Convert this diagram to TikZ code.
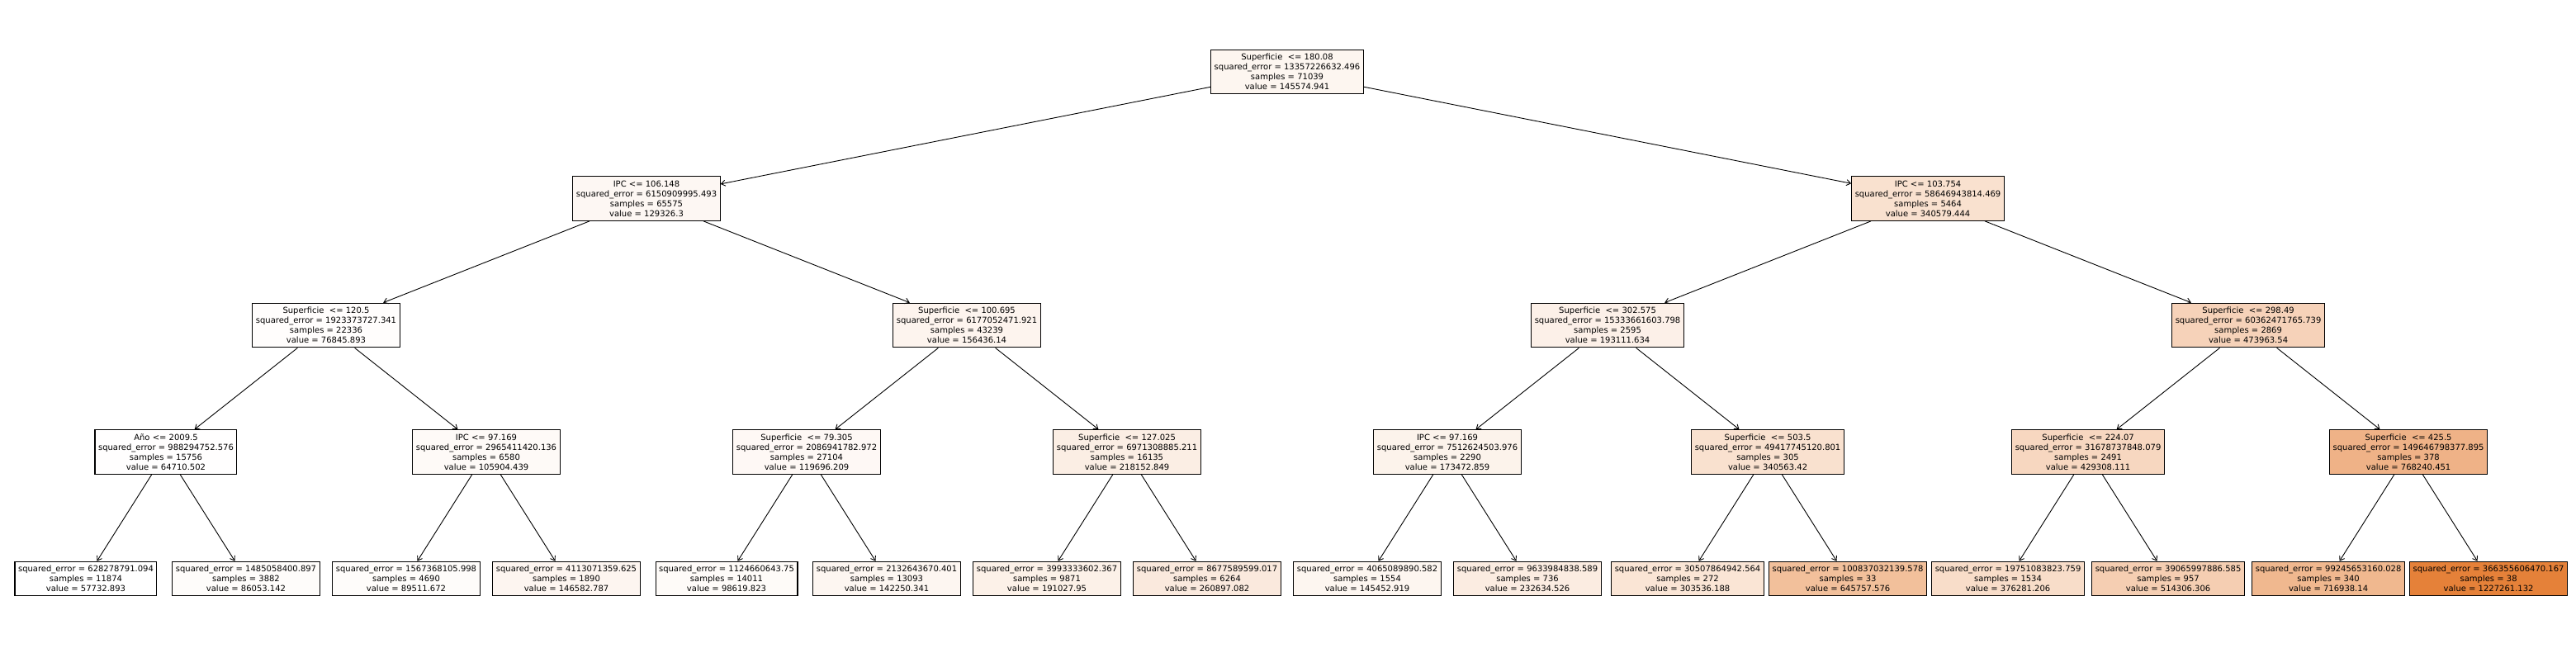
\documentclass[tikz,border=0pt]{standalone}
\usepackage{fontspec}
\setmainfont{DejaVu Sans}
\usetikzlibrary{arrows.meta}
\definecolor{treeorange}{RGB}{229,129,57}

\begin{document}
\begin{tikzpicture}[x=194pt, y=153.5pt, >={Straight Barb[length=5pt,width=7pt]},
  every node/.style={font=\fontsize{10}{12}\selectfont},
  treenode/.style={draw, line width=1.1pt, align=center, inner xsep=4pt, inner ysep=5pt},
  branch/.style={->, line width=0.9pt}]
  \useasboundingbox (-0.536,0.567) rectangle (15.546,-4.58);

  % root and first split
  \node[treenode, fill=treeorange!7.5] (t) at (7.5,0) {Superficie~ <= 180.08\\squared\_error = 13357226632.496\\samples = 71039\\value = 145574.941};
  \node[treenode, fill=treeorange!6.1] (l) at (3.5,-1) {IPC <= 106.148\\squared\_error = 6150909995.493\\samples = 65575\\value = 129326.3};
  \node[treenode, fill=treeorange!24.2] (r) at (11.5,-1) {IPC <= 103.754\\squared\_error = 58646943814.469\\samples = 5464\\value = 340579.444};

  % depth 2
  \node[treenode, fill=treeorange!1.6] (ll) at (1.5,-2) {Superficie~ <= 120.5\\squared\_error = 1923373727.341\\samples = 22336\\value = 76845.893};
  \node[treenode, fill=treeorange!8.4] (lr) at (5.5,-2) {Superficie~ <= 100.695\\squared\_error = 6177052471.921\\samples = 43239\\value = 156436.14};
  \node[treenode, fill=treeorange!11.6] (rl) at (9.5,-2) {Superficie~ <= 302.575\\squared\_error = 15333661603.798\\samples = 2595\\value = 193111.634};
  \node[treenode, fill=treeorange!35.6] (rr) at (13.5,-2) {Superficie~ <= 298.49\\squared\_error = 60362471765.739\\samples = 2869\\value = 473963.54};

  % depth 3
  \node[treenode, fill=treeorange!0.6] (lll) at (0.5,-3) {Año <= 2009.5\\squared\_error = 988294752.576\\samples = 15756\\value = 64710.502};
  \node[treenode, fill=treeorange!4.1] (llr) at (2.5,-3) {IPC <= 97.169\\squared\_error = 2965411420.136\\samples = 6580\\value = 105904.439};
  \node[treenode, fill=treeorange!5.3] (lrl) at (4.5,-3) {Superficie~ <= 79.305\\squared\_error = 2086941782.972\\samples = 27104\\value = 119696.209};
  \node[treenode, fill=treeorange!13.7] (lrr) at (6.5,-3) {Superficie~ <= 127.025\\squared\_error = 6971308885.211\\samples = 16135\\value = 218152.849};
  \node[treenode, fill=treeorange!9.9] (rll) at (8.5,-3) {IPC <= 97.169\\squared\_error = 7512624503.976\\samples = 2290\\value = 173472.859};
  \node[treenode, fill=treeorange!24.2] (rlr) at (10.5,-3) {Superficie~ <= 503.5\\squared\_error = 49417745120.801\\samples = 305\\value = 340563.42};
  \node[treenode, fill=treeorange!31.8] (rrl) at (12.5,-3) {Superficie~ <= 224.07\\squared\_error = 31678737848.079\\samples = 2491\\value = 429308.111};
  \node[treenode, fill=treeorange!60.8] (rrr) at (14.5,-3) {Superficie~ <= 425.5\\squared\_error = 149646798377.895\\samples = 378\\value = 768240.451};

  % leaves
  \node[treenode, fill=white] (llll) at (0,-4) {squared\_error = 628278791.094\\samples = 11874\\value = 57732.893};
  \node[treenode, fill=treeorange!2.4] (lllr) at (1,-4) {squared\_error = 1485058400.897\\samples = 3882\\value = 86053.142};
  \node[treenode, fill=treeorange!2.7] (llrl) at (2,-4) {squared\_error = 1567368105.998\\samples = 4690\\value = 89511.672};
  \node[treenode, fill=treeorange!7.6] (llrr) at (3,-4) {squared\_error = 4113071359.625\\samples = 1890\\value = 146582.787};
  \node[treenode, fill=treeorange!3.5] (lrll) at (4,-4) {squared\_error = 1124660643.75\\samples = 14011\\value = 98619.823};
  \node[treenode, fill=treeorange!7.2] (lrlr) at (5,-4) {squared\_error = 2132643670.401\\samples = 13093\\value = 142250.341};
  \node[treenode, fill=treeorange!11.4] (lrrl) at (6,-4) {squared\_error = 3993333602.367\\samples = 9871\\value = 191027.95};
  \node[treenode, fill=treeorange!17.4] (lrrr) at (7,-4) {squared\_error = 8677589599.017\\samples = 6264\\value = 260897.082};
  \node[treenode, fill=treeorange!7.5] (rlll) at (8,-4) {squared\_error = 4065089890.582\\samples = 1554\\value = 145452.919};
  \node[treenode, fill=treeorange!15] (rllr) at (9,-4) {squared\_error = 9633984838.589\\samples = 736\\value = 232634.526};
  \node[treenode, fill=treeorange!21] (rlrl) at (10,-4) {squared\_error = 30507864942.564\\samples = 272\\value = 303536.188};
  \node[treenode, fill=treeorange!50.3] (rlrr) at (11,-4) {squared\_error = 100837032139.578\\samples = 33\\value = 645757.576};
  \node[treenode, fill=treeorange!27.2] (rrll) at (12,-4) {squared\_error = 19751083823.759\\samples = 1534\\value = 376281.206};
  \node[treenode, fill=treeorange!39] (rrlr) at (13,-4) {squared\_error = 39065997886.585\\samples = 957\\value = 514306.306};
  \node[treenode, fill=treeorange!56.4] (rrrl) at (14,-4) {squared\_error = 99245653160.028\\samples = 340\\value = 716938.14};
  \node[treenode, fill=treeorange] (rrrr) at (15,-4) {squared\_error = 366355606470.167\\samples = 38\\value = 1227261.132};

  % branches
  \draw[branch] (t) -- (l);
  \draw[branch] (t) -- (r);
  \draw[branch] (l) -- (ll);
  \draw[branch] (l) -- (lr);
  \draw[branch] (r) -- (rl);
  \draw[branch] (r) -- (rr);
  \draw[branch] (ll) -- (lll);
  \draw[branch] (ll) -- (llr);
  \draw[branch] (lr) -- (lrl);
  \draw[branch] (lr) -- (lrr);
  \draw[branch] (rl) -- (rll);
  \draw[branch] (rl) -- (rlr);
  \draw[branch] (rr) -- (rrl);
  \draw[branch] (rr) -- (rrr);
  \draw[branch] (lll) -- (llll);
  \draw[branch] (lll) -- (lllr);
  \draw[branch] (llr) -- (llrl);
  \draw[branch] (llr) -- (llrr);
  \draw[branch] (lrl) -- (lrll);
  \draw[branch] (lrl) -- (lrlr);
  \draw[branch] (lrr) -- (lrrl);
  \draw[branch] (lrr) -- (lrrr);
  \draw[branch] (rll) -- (rlll);
  \draw[branch] (rll) -- (rllr);
  \draw[branch] (rlr) -- (rlrl);
  \draw[branch] (rlr) -- (rlrr);
  \draw[branch] (rrl) -- (rrll);
  \draw[branch] (rrl) -- (rrlr);
  \draw[branch] (rrr) -- (rrrl);
  \draw[branch] (rrr) -- (rrrr);
\end{tikzpicture}
\end{document}
